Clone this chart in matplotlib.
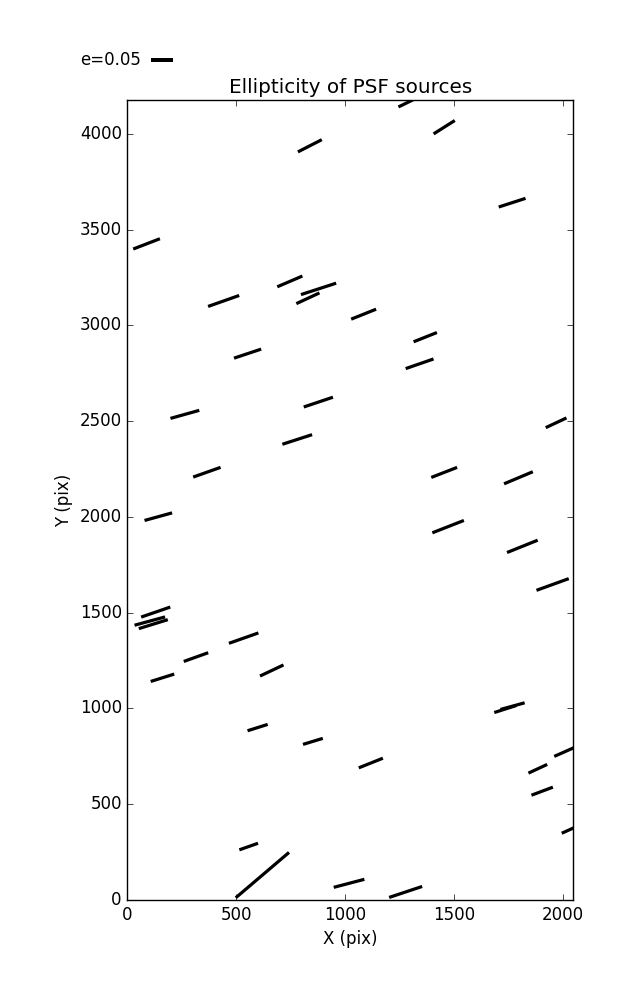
import numpy as np
import matplotlib
matplotlib.use("Agg")
import matplotlib.pyplot as plt

# PSF star positions on the chip (pix)
star_x = [838, 88, 746, 442, 878, 829, 1303, 1455, 1767, 552,
          264, 877, 780, 365, 1085, 1368, 1342, 1969, 1455, 1796,
          142, 130, 103, 119, 534, 315, 161, 663, 1473, 1814,
          1953, 598, 852, 557, 620, 1018, 1736, 1769, 2015, 1118,
          1885, 1905, 2041, 1278]
star_y = [3937, 3425, 3229, 3127, 3190, 3141, 4172, 4034, 3640, 2852,
          2535, 2599, 2404, 2233, 3058, 2938, 2799, 2491, 2232, 2204,
          2001, 1503, 1456, 1440, 1367, 1268, 1160, 1198, 1949, 1846,
          1647, 900, 828, 279, 130, 87, 997, 1012, 777, 715,
          685, 568, 372, 42]
# ellipticity modulus and position angle (deg)
ellip = [0.061, 0.065, 0.062, 0.075, 0.084, 0.058, 0.064, 0.057, 0.064, 0.065,
         0.068, 0.070, 0.071, 0.066, 0.061, 0.057, 0.067, 0.052, 0.063, 0.071,
         0.065, 0.070, 0.072, 0.069, 0.071, 0.059, 0.056, 0.059, 0.077, 0.075,
         0.078, 0.048, 0.047, 0.045, 0.159, 0.072, 0.053, 0.057, 0.059, 0.059,
         0.047, 0.052, 0.050, 0.079]
angle = [27.1, 21.1, 23.2, 19.4, 18.0, 24.9, 26.0, 32.3, 17.9, 18.4,
         15.6, 18.5, 17.9, 19.5, 21.8, 21.7, 19.1, 25.1, 21.3, 22.8,
         15.4, 19.0, 15.2, 17.2, 19.4, 19.7, 17.4, 25.3, 21.4, 21.9,
         19.9, 17.5, 16.9, 19.4, 40.4, 14.7, 17.7, 15.4, 23.9, 21.8,
         24.9, 20.6, 24.2, 18.4]

key_e = 0.05

plt.style.use('classic')

x = np.array(star_x, dtype=float)
y = np.array(star_y, dtype=float)
e = np.array(ellip)
theta = np.deg2rad(angle)
u = e * np.cos(theta)
v = e * np.sin(theta)

fig = plt.figure(figsize=(6.37, 10), dpi=100, facecolor='white')
ax = fig.add_subplot(111)
fig.subplots_adjust(left=0.2, right=0.9, bottom=0.1, top=0.9)

# headless quiver -> plain sticks centred on each star
q = ax.quiver(x, y, u, v, angles='uv', pivot='middle',
              scale=key_e / 0.22, scale_units='inches',
              units='dots', width=3.2,
              headwidth=0, headlength=0, headaxislength=0, color='k')
ax.quiverkey(q, 0.2366, 0.94, key_e, 'e=0.05', coordinates='figure',
             labelpos='W')

ax.set_xlim(0, 2048)
ax.set_ylim(0, 4176)
ax.set_xticks(np.arange(0, 2001, 500))
ax.set_yticks(np.arange(0, 4001, 500))
ax.set_xlabel('X (pix)')
ax.set_ylabel('Y (pix)')
ax.set_title('Ellipticity of PSF sources')

fig.savefig('out.png', dpi=100, facecolor='white')
